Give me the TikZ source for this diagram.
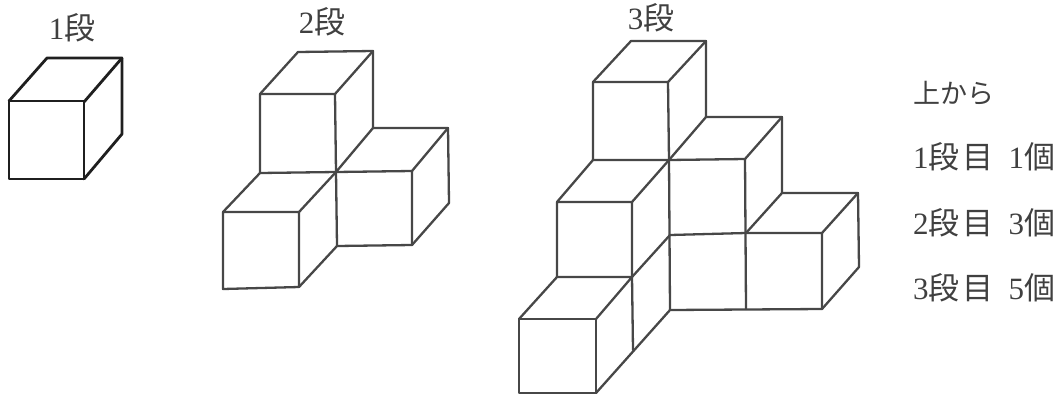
\documentclass[tikz,border=0pt]{standalone}
\usepackage{fontspec}
\setmainfont{Noto Sans CJK JP}
\newfontfamily\dgfont{Liberation Serif}
\newcommand{\dg}[1]{{\dgfont #1}}
\tikzset{
  edge/.style={draw=black!72,line width=2.3pt,line join=round,line cap=round},
  edgeb/.style={draw=black!88,line width=2.8pt,line join=round,line cap=round},
  lab/.style={inner sep=0pt,text=black!75,font=\fontsize{31}{31}\selectfont},
  side/.style={inner sep=0pt,anchor=west,text=black!75,font=\fontsize{31}{31}\selectfont},
  sidetop/.style={inner sep=0pt,anchor=west,text=black!75,font=\fontsize{27}{27}\selectfont}
}
\begin{document}
\begin{tikzpicture}[x=1pt,y=-1pt]
\useasboundingbox (0,0) rectangle (1064,394);
% 1 tier
\node[lab] (t1) at (72,28) {\dg{1}段};
\draw[edgeb] (9,101) rectangle (84,179);
\draw[edgeb] (9,101) -- (47,58) -- (122,58) -- (122,134) -- (84,179);
\draw[edgeb] (84,102) -- (122,58);
% 2 tiers
\node[lab] (t2) at (322,22) {\dg{2}段};
\draw[edge] (260,173) -- (260,94) -- (335,94) -- (336,172) -- (337,246);
\draw[edge] (260,94) -- (298,52) -- (373,51) -- (373,128);
\draw[edge] (335,94) -- (373,51);
\draw[edge] (336,172) -- (373,128) -- (448,128) -- (449,203) -- (412,245) -- (337,246) -- (299,287);
\draw[edge] (260,173) -- (336,172) -- (412,171) -- (412,245);
\draw[edge] (412,171) -- (448,128);
\draw[edge] (223,212) -- (260,173);
\draw[edge] (336,172) -- (299,212);
\draw[edge] (223,212) -- (299,212) -- (299,287) -- (223,289) -- cycle;
% 3 tiers
\node[lab] (t3) at (651,18) {\dg{3}段};
\draw[edge] (593,160) -- (593,82) -- (668,82) -- (669,160) -- (670,310);
\draw[edge] (593,82) -- (631,41) -- (706,41) -- (706,117);
\draw[edge] (668,82) -- (706,41);
\draw[edge] (669,160) -- (706,117) -- (782,117) -- (782,193) -- (746,233);
\draw[edge] (593,160) -- (669,160) -- (745,159) -- (746,309);
\draw[edge] (745,159) -- (782,117);
\draw[edge] (782,193) -- (858,193) -- (859,267) -- (822,309) -- (670,310) -- (596,393);
\draw[edge] (670,235) -- (746,233) -- (822,233) -- (822,309);
\draw[edge] (822,233) -- (858,193);
\draw[edge] (557,202) -- (593,160);
\draw[edge] (669,160) -- (632,202);
\draw[edge] (557,277) -- (557,202) -- (632,202) -- (632,277) -- (633,350);
\draw[edge] (632,277) -- (670,235);
\draw[edge] (519,319) -- (557,277) -- (632,277) -- (596,319);
\draw[edge] (519,319) -- (596,319) -- (596,393) -- (519,393) -- cycle;
% tiers list
\node[sidetop] (s0) at (913,93) {上から};
\node[side] (s1) at (913,157) {\dg{1}段\hspace{3pt}目 \hspace{8pt}\dg{1}個};
\node[side] (s2) at (913,223) {\dg{2}段\hspace{3pt}目 \hspace{8pt}\dg{3}個};
\node[side] (s3) at (913,288) {\dg{3}段\hspace{3pt}目 \hspace{8pt}\dg{5}個};
\end{tikzpicture}
\end{document}
